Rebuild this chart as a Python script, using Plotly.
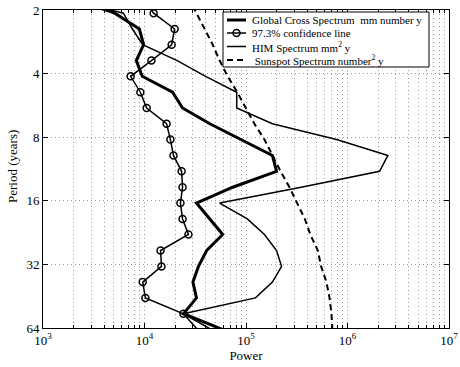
import math
import plotly.graph_objects as go

# periods (years) at which the spectra are sampled; first point lies just above the top edge
periods = [1.74, 2.07, 2.46, 2.92, 3.47, 4.12, 4.90, 5.82, 6.91, 8.21, 9.76,
           11.6, 13.8, 16.4, 19.5, 23.1, 27.5, 32.7, 38.8, 46.1, 54.8, 65.1]

global_cross = [1.8e3, 5.1e3, 8.9e3, 9.8e3, 8.3e3, 9.5e3, 1.89e4, 2.37e4, 4.4e4, 9.0e4, 1.82e5,
                2.0e5, 7.4e4, 3.25e4, 4.4e4, 5.9e4, 4.1e4, 3.4e4, 3.0e4, 3.25e4, 2.42e4, 5.9e4]

confidence = [9.5e3, 1.23e4, 1.98e4, 1.85e4, 1.17e4, 7.3e3, 9.1e3, 1.05e4, 1.65e4, 1.8e4, 1.93e4,
              2.32e4, 2.37e4, 2.26e4, 2.37e4, 2.71e4, 1.44e4, 1.47e4, 9.6e3, 1.02e4, 2.42e4, 3.33e4]

him = [1.45e3, 6.2e3, 7.6e3, 9.6e3, 2.1e4, 4.0e4, 8.1e4, 8.1e4, 1.82e5, 7.8e5, 2.5e6,
       2.07e6, 3.5e5, 5.5e4, 1.03e5, 1.52e5, 2.0e5, 2.24e5, 1.82e5, 1.24e5, 2.42e4, 4.57e4]

sunspot = [2.7e4, 3.25e4, 3.9e4, 4.7e4, 5.5e4, 6.6e4, 8.2e4, 9.9e4, 1.21e5, 1.52e5, 1.82e5,
           2.19e5, 2.68e5, 3.2e5, 3.8e5, 4.3e5, 5.1e5, 5.5e5, 6.2e5, 6.65e5, 6.95e5, 7.1e5]

x_ticks = [1e3, 1e4, 1e5, 1e6, 1e7]
x_labels = ["10<sup>3</sup>", "10<sup>4</sup>", "10<sup>5</sup>", "10<sup>6</sup>", "10<sup>7</sup>"]
y_ticks = [2, 4, 8, 16, 32, 64]
y_labels = ["2", "4", "8", "16", "32", "64"]

legend_labels = [
    "Global Cross Spectrum &nbsp;mm number y",
    "97.3% confidence line",
    "HIM Spectrum mm<sup>2</sup> y",
    " Sunspot Spectrum number<sup>2</sup> y",
]

FONT = "Liberation Serif, Times New Roman, serif"
GRID = "#9a9a9a"
GRID_DASH = "1px,3px"

# line styles shared by the traces and the hand-drawn legend
STYLES = [
    dict(color="black", width=3),
    dict(color="black", width=1.5),
    dict(color="black", width=1.5),
    dict(color="black", width=2, dash="6px,4px"),
]

fig = go.Figure()

fig.add_trace(go.Scatter(x=global_cross, y=periods, mode="lines", line=STYLES[0]))
fig.add_trace(go.Scatter(
    x=confidence, y=periods, mode="lines+markers", line=STYLES[1],
    marker=dict(symbol="circle-open", size=7, color="black", line=dict(width=1.5)),
    cliponaxis=False,
))
fig.add_trace(go.Scatter(x=him, y=periods, mode="lines", line=STYLES[2]))
fig.add_trace(go.Scatter(x=sunspot, y=periods, mode="lines", line=STYLES[3]))

axis_common = dict(
    showline=True, linecolor="black", linewidth=1, mirror="ticks",
    ticks="inside", ticklen=5, tickcolor="black",
    showgrid=True, gridcolor=GRID, griddash=GRID_DASH, gridwidth=1,
    zeroline=False, automargin=False, ticklabeloverflow="allow",
    tickfont=dict(family=FONT, size=13, color="black"),
    title_font=dict(family=FONT, size=13, color="black"),
)

fig.update_xaxes(
    type="log", range=[3, 7],
    tickvals=x_ticks, ticktext=x_labels,
    minor=dict(dtick="D1", showgrid=True, gridcolor=GRID, griddash=GRID_DASH,
               ticks="inside", ticklen=3, tickcolor="black"),
    title=dict(text="Power", standoff=2),
    **axis_common,
)
fig.update_yaxes(
    type="log", range=[math.log10(64) + 1e-6, math.log10(2) - 1e-6],
    tickvals=y_ticks, ticktext=y_labels,
    **axis_common,
)

FW, FH = 460, 367
L, R, T, B = 43, 449, 10, 328
W, H = R - L, B - T


def px_x(p):
    # page pixel -> plot-area fraction
    return (p - L) / W


def px_y(p):
    return 1 - (p - T) / H


# y title placed by hand, closer to the edge than plotly's standoff allows
fig.add_annotation(xref="paper", yref="paper", x=px_x(12), y=px_y(167),
                   xanchor="center", yanchor="middle", showarrow=False, textangle=-90,
                   text="Period (years)", font=dict(family=FONT, size=13, color="black"))

fig.add_shape(type="rect", xref="paper", yref="paper",
              x0=px_x(223), x1=px_x(429), y0=px_y(67), y1=px_y(12),
              line=dict(color="black", width=1), fillcolor="white", layer="above")

row_y = [20, 33, 46.5, 60]
for i, (label, style) in enumerate(zip(legend_labels, STYLES)):
    yy = px_y(row_y[i])
    fig.add_shape(type="line", xref="paper", yref="paper",
                  x0=px_x(227), x1=px_x(246), y0=yy, y1=yy,
                  line=style, layer="above")
    if i == 1:
        fig.add_shape(type="circle", xref="paper", yref="paper",
                      xsizemode="pixel", ysizemode="pixel",
                      xanchor=px_x(236.5), yanchor=yy,
                      x0=-3.5, x1=3.5, y0=-3.5, y1=3.5,
                      line=dict(color="black", width=1.5), layer="above")
    fig.add_annotation(xref="paper", yref="paper", x=px_x(250), y=yy,
                       xanchor="left", yanchor="middle", showarrow=False,
                       text=label, font=dict(family=FONT, size=11, color="black"))

fig.update_layout(
    width=FW, height=FH,
    margin=dict(l=L, r=FW - R, t=T, b=FH - B),
    plot_bgcolor="white", paper_bgcolor="white",
    font=dict(family=FONT, size=11, color="black"),
    showlegend=False,
)

# drop the browser's default body margin so the figure fills the window exactly
fig.write_html("out.html", config={"displayModeBar": False},
               post_script="document.body.style.margin='0';")
